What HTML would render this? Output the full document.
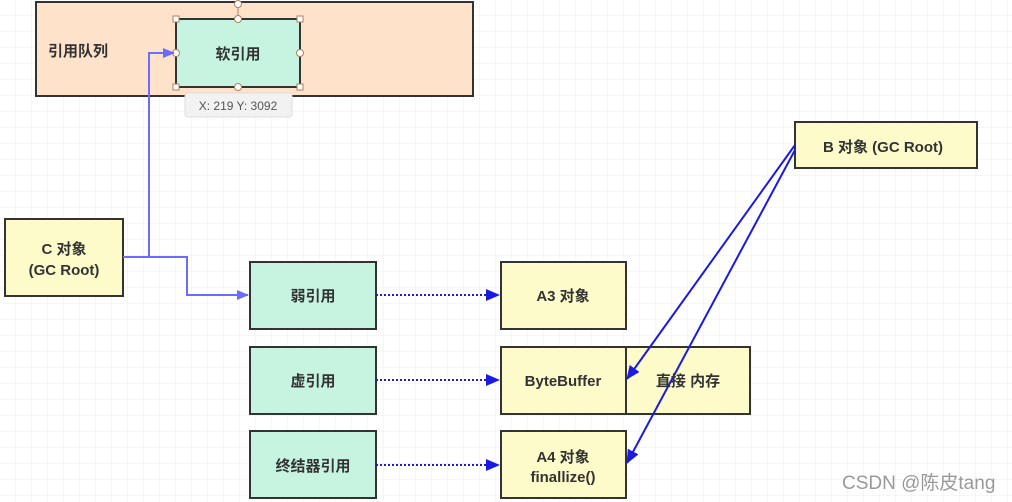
<!DOCTYPE html>
<html><head><meta charset="utf-8"><style>
html,body{margin:0;padding:0;width:1012px;height:502px;overflow:hidden;background:#fff}
</style></head><body>
<svg width="1012" height="502" xmlns="http://www.w3.org/2000/svg" font-family="Liberation Sans, Noto Sans CJK SC, sans-serif">
<defs>
<pattern id="g" width="16" height="16" patternUnits="userSpaceOnUse"><path d="M16 0V16H0" fill="none" stroke="#ececec" stroke-width="1"/></pattern>
<marker id="a1" markerWidth="12" markerHeight="10" refX="11" refY="5" orient="auto" markerUnits="userSpaceOnUse"><path d="M0 0L12 5L0 10z" fill="#6b6bff"/></marker>
<marker id="a2" markerWidth="14" markerHeight="12" refX="13" refY="6" orient="auto" markerUnits="userSpaceOnUse"><path d="M0 0L14 6L0 12z" fill="#1a1ae0"/></marker>
</defs>
<rect width="1012" height="502" fill="url(#g)"/>
<g stroke="#333" stroke-width="2" font-weight="bold" font-size="14" fill="#333">
<rect x="36" y="2" width="437" height="94" fill="#fee2c9"/>
<rect x="176" y="19" width="124" height="68" fill="#c6f4e0"/>
<rect x="5" y="219" width="118" height="77" fill="#fefbcb"/>
<rect x="250" y="262" width="126" height="67" fill="#c6f4e0"/>
<rect x="250" y="347" width="126" height="67" fill="#c6f4e0"/>
<rect x="250" y="431" width="126" height="67" fill="#c6f4e0"/>
<rect x="501" y="262" width="125" height="67" fill="#fefbcb"/>
<rect x="501" y="347" width="249" height="67" fill="#fefbcb"/>
<line x1="626" y1="347" x2="626" y2="414"/>
<rect x="501" y="431" width="125" height="67" fill="#fefbcb"/>
<rect x="795" y="122" width="182" height="46" fill="#fefbcb"/>
</g>
<g stroke="#b08060" fill="#fff" stroke-width="1">
<line x1="238" y1="4" x2="238" y2="19"/>
<circle cx="238" cy="4" r="3.5"/><circle cx="238" cy="19" r="3.5"/><circle cx="238" cy="87" r="3.5"/>
<circle cx="176" cy="53" r="3.5"/><circle cx="300" cy="53" r="3.5"/>
<rect x="173" y="16" width="6" height="6"/><rect x="297" y="16" width="6" height="6"/>
<rect x="173" y="84" width="6" height="6"/><rect x="297" y="84" width="6" height="6"/>
</g>
<rect x="185" y="93" width="107" height="24" rx="3" fill="#f2f2f2" stroke="#ddd"/>
<text x="238" y="110" font-size="12" fill="#555" text-anchor="middle">X: 219  Y: 3092</text>
<g fill="none" stroke="#6b6bff" stroke-width="2">
<path d="M123 257H149V53H174" marker-end="url(#a1)"/>
<path d="M149 257H187V295H248" marker-end="url(#a1)"/>
</g>
<g fill="none" stroke="#1a1ae0" stroke-width="2" stroke-dasharray="2,2">
<line x1="376" y1="295" x2="499" y2="295" marker-end="url(#a2)"/>
<line x1="376" y1="380" x2="499" y2="380" marker-end="url(#a2)"/>
<line x1="376" y1="465" x2="499" y2="465" marker-end="url(#a2)"/>
</g>
<g fill="none" stroke="#1a1ae0" stroke-width="2">
<line x1="795" y1="145" x2="627" y2="379" marker-end="url(#a2)"/>
<line x1="795" y1="150" x2="627" y2="463" marker-end="url(#a2)"/>
</g>
<g font-weight="bold" font-size="15" fill="#333" text-anchor="middle">
<text x="78" y="56">引用队列</text>
<text x="238" y="59">软引用</text>
<text x="64" y="254">C 对象</text>
<text x="64" y="275">(GC Root)</text>
<text x="313" y="301">弱引用</text>
<text x="313" y="386">虚引用</text>
<text x="313" y="471">终结器引用</text>
<text x="563" y="301">A3 对象</text>
<text x="563" y="386">ByteBuffer</text>
<text x="688" y="386">直接 内存</text>
<text x="563" y="462">A4 对象</text>
<text x="563" y="482">finallize()</text>
<text x="883" y="152">B 对象 (GC Root)</text>
</g>
<text x="842" y="489" font-size="19" fill="#999">CSDN @陈皮tang</text>
</svg>
</body></html>
